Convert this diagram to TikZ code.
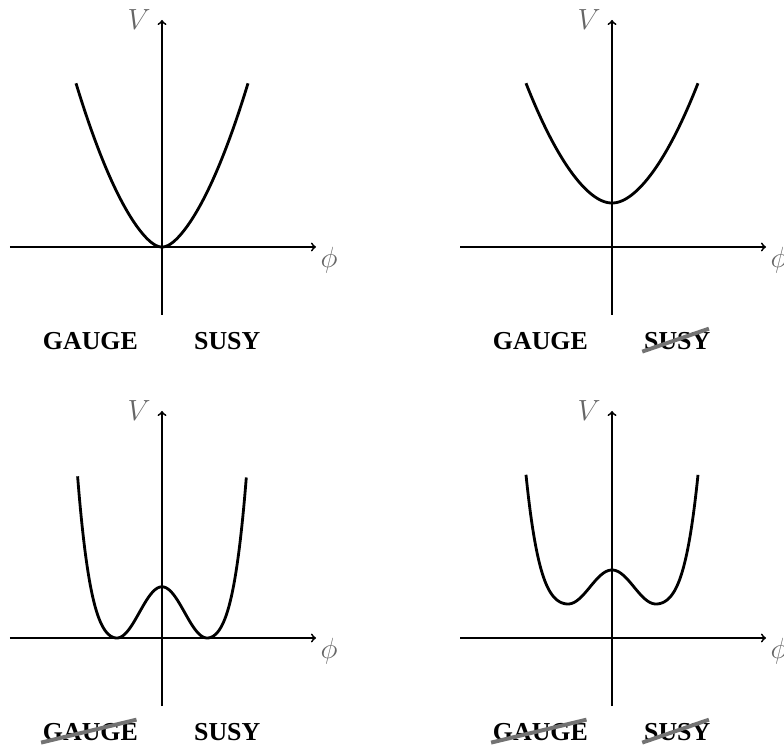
\documentclass[tikz,border=0pt]{standalone}
\usepackage{fontspec}
\setmainfont{Liberation Serif}
\begin{document}
\begin{tikzpicture}[
		axis/.style = {line width = 1.3pt, ->},
		pot/.style = {line width = 2pt, samples = 200, smooth},
		varlabel/.style = {text = black!60, font = \fontsize{20}{24}\selectfont},
		sector/.style = {font = \bfseries\fontsize{18.4}{22}\selectfont, inner sep = 0pt, anchor = south},
		broken/.style = {line width = 2.8pt, black!55}
	]
		\useasboundingbox (-4.05,-12.45) rectangle (15.55,6.175);
		% unbroken gauge, unbroken susy
		\begin{scope}
			\draw [axis] (-3.8,0) -- (3.85,0);
			\draw [axis] (0,-1.7) -- (0,5.675);
			\node [varlabel] (phi1) at (4.175,-0.33) {$\phi$};
			\node [varlabel] (v1) at (-0.575,5.675) {$V$};
			\draw [pot, domain = -2.15:2.15] plot (\x,{0.6*\x*\x + 0.705*(sqrt(\x*\x + 0.09) - 0.3)});
			\node [sector] (g1) at (-1.79,-2.575) {GAUGE};
			\node [sector] (s1) at (1.63,-2.575) {SUSY};
		\end{scope}
		% unbroken gauge, broken susy
		\begin{scope}[shift = {(11.25,0)}]
			\draw [axis] (-3.8,0) -- (3.85,0);
			\draw [axis] (0,-1.7) -- (0,5.675);
			\node [varlabel] (phi2) at (4.175,-0.33) {$\phi$};
			\node [varlabel] (v2) at (-0.575,5.675) {$V$};
			\draw [pot, domain = -2.15:2.15] plot (\x,{1.1 + 0.5*\x*\x + 0.4*(sqrt(\x*\x + 0.25) - 0.5)});
			\node [sector] (g2) at (-1.79,-2.575) {GAUGE};
			\node [sector] (s2) at (1.63,-2.575) {SUSY};
			\draw [broken] ([shift = {(-0.04,-0.04)}]s2.south west) -- ([shift = {(-0.04,0.085)}]s2.north east);
		\end{scope}
		% broken gauge, unbroken susy
		\begin{scope}[shift = {(0,-9.775)}]
			\draw [axis] (-3.8,0) -- (3.85,0);
			\draw [axis] (0,-1.7) -- (0,5.675);
			\node [varlabel] (phi3) at (4.175,-0.33) {$\phi$};
			\node [varlabel] (v3) at (-0.575,5.675) {$V$};
			\draw [pot, domain = -2.11:2.11] plot (\x,{(abs(\x) < 1.13) ? (0.64*(1 + cos(159.3*\x))) : (2*(abs(\x) - 1.13)^2 + 2.3*(abs(\x) - 1.13)^4)});
			\node [sector] (g3) at (-1.79,-2.575) {GAUGE};
			\node [sector] (s3) at (1.63,-2.575) {SUSY};
			\draw [broken] ([shift = {(-0.04,-0.04)}]g3.south west) -- ([shift = {(-0.04,0.085)}]g3.north east);
		\end{scope}
		% broken gauge, broken susy
		\begin{scope}[shift = {(11.25,-9.775)}]
			\draw [axis] (-3.8,0) -- (3.85,0);
			\draw [axis] (0,-1.7) -- (0,5.675);
			\node [varlabel] (phi4) at (4.175,-0.33) {$\phi$};
			\node [varlabel] (v4) at (-0.575,5.675) {$V$};
			\draw [pot, domain = -2.15:2.15] plot (\x,{(abs(\x) < 1.1) ? (0.85 + 0.425*(1 + cos(163.6*\x))) : (0.85 + 1.2*(abs(\x) - 1.1)^2 + 1.57*(abs(\x) - 1.1)^4)});
			\node [sector] (g4) at (-1.79,-2.575) {GAUGE};
			\node [sector] (s4) at (1.63,-2.575) {SUSY};
			\draw [broken] ([shift = {(-0.04,-0.04)}]g4.south west) -- ([shift = {(-0.04,0.085)}]g4.north east);
			\draw [broken] ([shift = {(-0.04,-0.04)}]s4.south west) -- ([shift = {(-0.04,0.085)}]s4.north east);
		\end{scope}
	\end{tikzpicture}
\end{document}
